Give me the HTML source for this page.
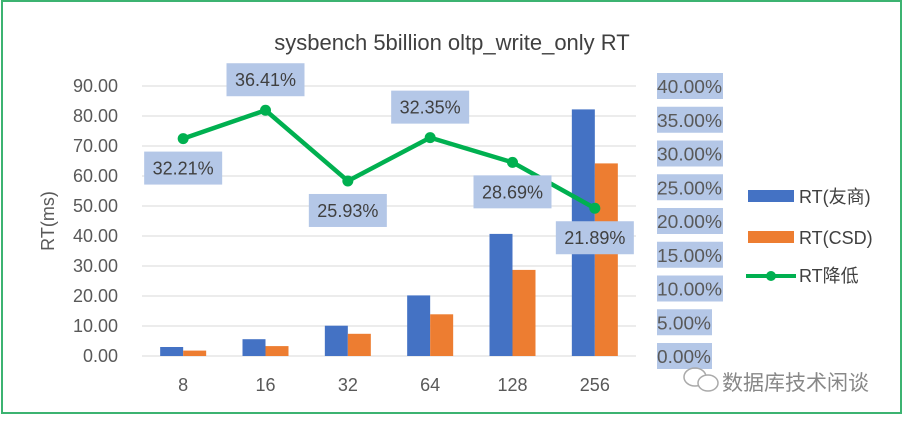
<!DOCTYPE html>
<html><head><meta charset="utf-8"><style>
html,body{margin:0;padding:0;background:#fff}
body{width:904px;height:417px;overflow:hidden;font-family:"Liberation Sans","Noto Sans CJK SC",sans-serif}
</style></head><body>
<svg id="chart" width="904" height="417" xmlns="http://www.w3.org/2000/svg" font-family="'Liberation Sans','Noto Sans CJK SC',sans-serif">
<rect x="2" y="1" width="899" height="412" fill="#fff" stroke="#3cb371" stroke-width="2"/>
<text x="452" y="50" text-anchor="middle" font-size="22" fill="#404040">sysbench 5billion oltp_write_only RT</text>
<text transform="translate(54,221) rotate(-90)" text-anchor="middle" font-size="18" fill="#595959">RT(ms)</text>
<g id="grid"></g><g id="bars"></g><g id="line"></g><g id="labels"></g><g id="axes"></g>
<g>
<rect x="748" y="190" width="46" height="12" fill="#4472c4"/>
<text x="799" y="203" font-size="18" fill="#404040">RT(友商)</text>
<rect x="748" y="231" width="46" height="12" fill="#ed7d31"/>
<text x="799" y="244" font-size="18" fill="#404040">RT(CSD)</text>
<line x1="746" y1="276" x2="796" y2="276" stroke="#00b050" stroke-width="4"/>
<circle cx="771" cy="276" r="5" fill="#00b050"/>
<text x="799" y="282" font-size="18" fill="#404040">RT降低</text>
</g>
<g>
<ellipse cx="695" cy="377" rx="11" ry="9" fill="none" stroke="#aaa" stroke-width="1.5"/>
<ellipse cx="708" cy="383" rx="10" ry="8" fill="#fff" stroke="#aaa" stroke-width="1.5"/>
<text x="722" y="390" font-size="21" fill="#888">数据库技术闲谈</text>
</g>
</svg>
<script>
const categories=["8","16","32","64","128","256"];
const rtYoushang=[3.0,5.6,10.1,20.2,40.7,82.2];
const rtCsd=[1.8,3.3,7.4,13.9,28.7,64.2];
const reduction=[32.21,36.41,25.93,32.35,28.69,21.89];
const leftTicks=[0,10,20,30,40,50,60,70,80,90];
const rightTicks=[0,5,10,15,20,25,30,35,40];
const NS="http://www.w3.org/2000/svg";
const X0=142,X1=636,Y0=356,Y1=86;
const step=(X1-X0)/categories.length;
const xc=i=>X0+step*(i+0.5);
const yL=v=>Y0-(v/90)*(Y0-Y1);
const yR=v=>Y0-(v/40)*(Y0-Y1);
function mk(tag,attrs,parent,text){const e=document.createElementNS(NS,tag);for(const k in attrs)e.setAttribute(k,attrs[k]);if(text!==undefined)e.textContent=text;document.getElementById(parent).appendChild(e);return e;}
leftTicks.forEach(t=>{
 const g=mk("line",{x1:X0,x2:X1,y1:yL(t),y2:yL(t),stroke:"#d9d9d9","stroke-width":1},"grid");
 
 
 const l=mk("text",{x:118,y:yL(t)+6,"text-anchor":"end","font-size":18,fill:"#595959"},"axes",t.toFixed(2));
 
 
});
rightTicks.forEach(t=>{
 const s=t.toFixed(2)+"%";
 const w=t>=10?66:55;
 const r=mk("rect",{x:657,y:yR(t)-13,width:w,height:26,fill:"#b4c7e7"},"axes");
 
 
 const l=mk("text",{x:657,y:yR(t)+7,"font-size":18.5,fill:"#595959",textLength:t>=10?65:54,lengthAdjust:"spacingAndGlyphs"},"axes",s);
 
 
});
const bw=23;
categories.forEach((c,i)=>{
 const b=mk("rect",{x:xc(i)-bw,y:yL(rtYoushang[i]),width:bw,height:Y0-yL(rtYoushang[i]),fill:"#4472c4"},"bars");
 
 
 const o=mk("rect",{x:xc(i),y:yL(rtCsd[i]),width:bw,height:Y0-yL(rtCsd[i]),fill:"#ed7d31"},"bars");
 
 
 const t=mk("text",{x:xc(i),y:391,"text-anchor":"middle","font-size":18,fill:"#595959"},"axes",c);
 
 
});
const pts=reduction.map((v,i)=>xc(i)+","+yR(v)).join(" ");
const pl=mk("polyline",{points:pts,fill:"none",stroke:"#00b050","stroke-width":4.5,"stroke-linejoin":"round"},"line");


reduction.forEach((v,i)=>{
 const p=mk("circle",{cx:xc(i),cy:yR(v),r:5.5,fill:"#00b050"},"line");
 
 
 const above=(i===1||i===3);
 const by=above?yR(v)-47:yR(v)+13;
 const r=mk("rect",{x:xc(i)-39,y:by,width:78,height:33,fill:"#b4c7e7"},"labels");
 
 
 const t=mk("text",{x:xc(i),y:by+23,"text-anchor":"middle","font-size":18,fill:"#404040"},"labels",v.toFixed(2)+"%");
 
 
});
</script>
</body></html>
